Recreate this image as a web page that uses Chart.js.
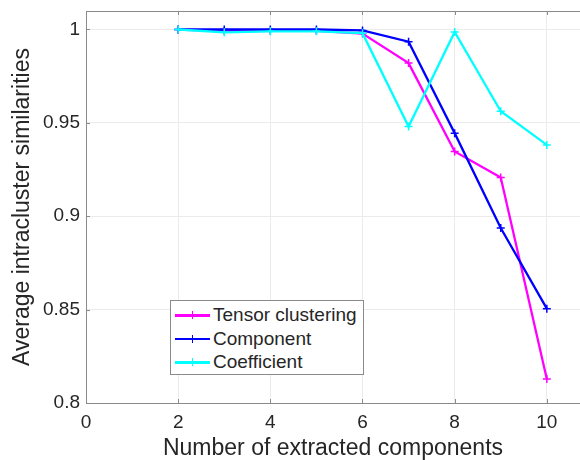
<!DOCTYPE html>
<html>
<head>
<meta charset="utf-8">
<script src="https://cdn.jsdelivr.net/npm/chart.js@4.4.1/dist/chart.umd.min.js"></script>
<style>
  html, body { margin: 0; background: #fff; overflow: hidden; }
  #wrap { position: relative; width: 580px; height: 460px; }
  #chart { display: block; }
  #legend {
    position: absolute; left: 170px; top: 300px; width: 192px; height: 73px;
    border: 1px solid #8a8a8a; background: #fff;
    font-family: "Liberation Sans", Arial, sans-serif; font-size: 19px; color: #262626;
  }
  .row { position: absolute; left: 0; height: 22px; line-height: 22px; white-space: nowrap; }
  .swatch { position: absolute; left: 4px; top: 10px; width: 35px; height: 2.5px; }
  .swatch::after { content: ""; position: absolute; left: 16.5px; top: -3px; width: 1.5px; height: 8px; background: inherit; }
  .label { position: absolute; left: 42px; top: 0; }
</style>
</head>
<body>
<div id="wrap">
  <canvas id="chart" width="580" height="460"></canvas>
  <div id="legend"></div>
</div>
<script>
// data
const components = [2, 3, 4, 5, 6, 7, 8, 9, 10];
const tensorClustering = [1.000, 0.9992, 0.9993, 0.9993, 0.9978, 0.9820, 0.9347, 0.9208, 0.8128];
const componentSim = [1.000, 1.000, 1.000, 1.000, 0.9995, 0.9935, 0.9445, 0.8937, 0.8505];
const coefficientSim = [1.000, 0.9985, 0.9990, 0.9990, 0.9980, 0.9480, 0.9987, 0.9562, 0.9382];
const seriesNames = ['Tensor clustering', 'Component', 'Coefficient'];
const seriesColors = ['#ff00ff', '#0000ff', '#00ffff'];
const xTicks = [0, 2, 4, 6, 8, 10];
const yTicks = [0.8, 0.85, 0.9, 0.95, 1];

const textColor = '#262626';
const axisColor = '#8a8a8a';
const gridColor = '#ebebeb';
const fontFamily = '"Liberation Sans", Arial, sans-serif';

function toPoints(ys) {
    return components.map((x, i) => ({ x: x, y: ys[i] }));
}

function makeDataset(name, ys, color, order) {
    return {
        label: name,
        data: toPoints(ys),
        borderColor: color,
        backgroundColor: color,
        borderWidth: 2.3,
        pointStyle: 'cross',
        pointRadius: 4,
        pointBorderWidth: 1.5,
        showLine: true,
        tension: 0,
        clip: false,
        order: order,
    };
}

// no extra room for overhanging tick labels, the plot box is fixed
function noPadding(scale) {
    scale.paddingTop = 0;
    scale.paddingBottom = 0;
    scale.paddingLeft = 0;
    scale.paddingRight = 0;
}

// top border and small inward tick marks, like a boxed axis
const boxPlugin = {
    id: 'box',
    afterDraw(chart) {
        const { ctx, chartArea, scales } = chart;
        ctx.save();
        ctx.strokeStyle = axisColor;
        ctx.lineWidth = 1;
        ctx.beginPath();
        ctx.moveTo(chartArea.left, chartArea.top + 0.5);
        ctx.lineTo(chartArea.right, chartArea.top + 0.5);
        xTicks.forEach(v => {
            const px = Math.round(scales.x.getPixelForValue(v)) + 0.5;
            ctx.moveTo(px, chartArea.bottom);
            ctx.lineTo(px, chartArea.bottom - 4);
            ctx.moveTo(px, chartArea.top);
            ctx.lineTo(px, chartArea.top + 4);
        });
        yTicks.forEach(v => {
            const py = Math.round(scales.y.getPixelForValue(v)) + 0.5;
            ctx.moveTo(chartArea.left, py);
            ctx.lineTo(chartArea.left + 4, py);
        });
        ctx.stroke();
        ctx.restore();
    }
};

new Chart(document.getElementById('chart').getContext('2d'), {
    type: 'scatter',
    data: {
        datasets: [
            makeDataset(seriesNames[0], tensorClustering, seriesColors[0], 2),
            makeDataset(seriesNames[1], componentSim, seriesColors[1], 1),
            makeDataset(seriesNames[2], coefficientSim, seriesColors[2], 0),
        ],
    },
    options: {
        responsive: false,
        animation: false,
        layout: { autoPadding: false, padding: { top: 11, right: 0, bottom: 0, left: 0 } },
        plugins: { legend: { display: false }, tooltip: { enabled: false } },
        scales: {
            x: {
                type: 'linear',
                min: 0,
                max: 10.72,
                afterFit(scale) { scale.height = 57; noPadding(scale); },
                afterBuildTicks(scale) { scale.ticks = xTicks.map(v => ({ value: v })); },
                grid: { color: gridColor, drawTicks: false },
                border: { color: axisColor, width: 1 },
                ticks: {
                    color: textColor, padding: 8,
                    font: { family: fontFamily, size: 19 },
                    maxRotation: 0,
                },
                title: {
                    display: true,
                    text: 'Number of extracted components',
                    color: textColor,
                    font: { family: fontFamily, size: 23, lineHeight: 1 },
                    padding: { top: 0, bottom: 0 },
                },
            },
            y: {
                type: 'linear',
                min: 0.8,
                max: 1.0099,
                afterFit(scale) { scale.width = 86; noPadding(scale); },
                afterBuildTicks(scale) { scale.ticks = yTicks.map(v => ({ value: v })); },
                grid: { color: gridColor, drawTicks: false },
                border: { color: axisColor, width: 1 },
                ticks: {
                    color: textColor, padding: 6,
                    font: { family: fontFamily, size: 19 },
                    callback: v => String(Number(v.toFixed(2))),
                },
                title: {
                    display: true,
                    text: 'Average intracluster similarities',
                    color: textColor,
                    font: { family: fontFamily, size: 23, lineHeight: 1 },
                    padding: { top: 11, bottom: 0 },
                },
            },
        },
    },
    plugins: [boxPlugin],
});

// legend drawn inside the plot, like the original
const legend = document.getElementById('legend');
seriesNames.forEach((name, i) => {
    const row = document.createElement('div');
    row.className = 'row';
    row.style.top = (3 + i * 23.5) + 'px';
    row.style.width = '100%';
    const sw = document.createElement('span');
    sw.className = 'swatch';
    sw.style.background = seriesColors[i];
    const lb = document.createElement('span');
    lb.className = 'label';
    lb.textContent = name;
    row.appendChild(sw);
    row.appendChild(lb);
    legend.appendChild(row);
});
</script>
</body>
</html>
